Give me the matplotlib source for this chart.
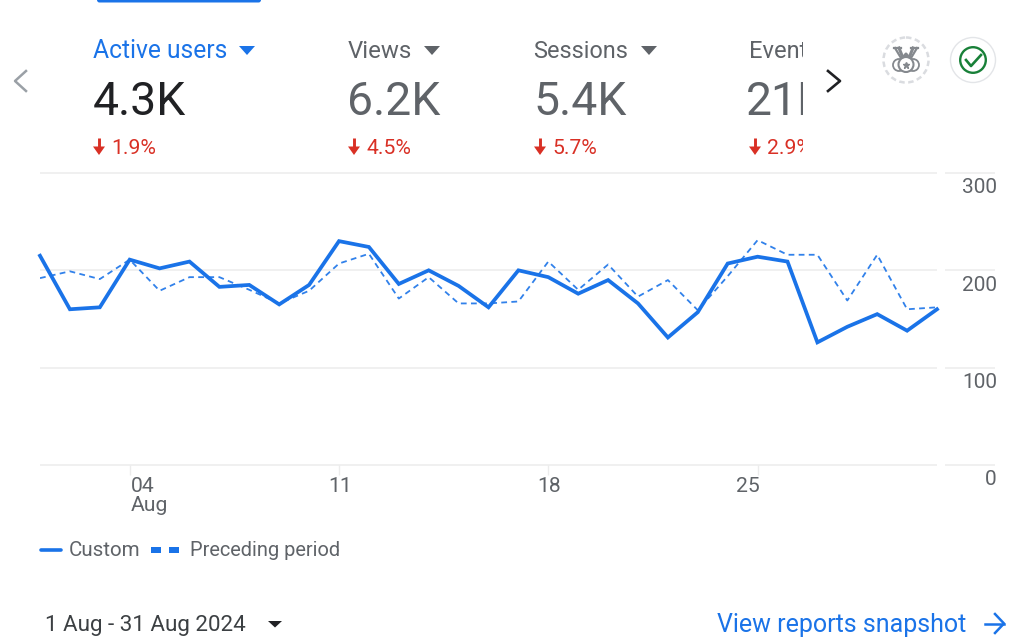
import matplotlib
matplotlib.use("Agg")
import matplotlib.pyplot as plt
from matplotlib.patches import Rectangle, Circle, Polygon, FancyBboxPatch
from matplotlib.transforms import ScaledTranslation

plt.rcParams['font.family'] = ['Roboto', 'DejaVu Sans']

days = list(range(1, 32))
custom = [215, 160, 162, 211, 202, 209, 183, 185, 165, 185, 230, 224, 186, 200, 184, 162,
          200, 193, 176, 190, 166, 131, 157, 207, 214, 209, 126, 142, 155, 138, 160]
preceding = [192, 199, 191, 211, 179, 193, 193, 180, 166, 179, 207, 217, 171, 193, 166, 166,
             168, 209, 180, 206, 173, 190, 159, 194, 231, 216, 216, 169, 216, 160, 162]
y_ticks = [0, 100, 200, 300]
x_ticks = [4, 11, 18, 25]
x_labels = ['04\nAug', '11', '18', '25']
x_aligns = ['left', 'center', 'center', 'right']
metrics = ['Active users', 'Views', 'Sessions', 'Events']
totals = ['4.3K', '6.2K', '5.4K', '21K']
changes = ['1.9%', '4.5%', '5.7%', '2.9%']
metric_x = [93, 348, 534, 749]
metric_tri = [247, 432, 649, None]
series_names = ['Custom', 'Preceding period']
date_range = '1 Aug - 31 Aug 2024'
link_text = 'View reports snapshot'

W, H = 1024, 644
BLUE = '#1a73e8'
GREY = '#5f6368'
RED = '#d93025'
GRID = '#ececec'

fig = plt.figure(figsize=(W / 100, H / 100), dpi=100, facecolor='white')

# overlay in pixel coordinates
ui = fig.add_axes([0, 0, 1, 1], zorder=0)
ui.set_xlim(0, W)
ui.set_ylim(H, 0)
ui.axis('off')

# chart
left, right, top, bottom = 40, 937, 173, 465
ax = fig.add_axes([left / W, 1 - bottom / H, (right - left) / W, (bottom - top) / H], zorder=1)
ax.patch.set_alpha(0)
ax.set_xlim(1, 31)
ax.set_ylim(0, 300)
for s in ax.spines.values():
    s.set_visible(False)
ax.hlines(y_ticks, 0, 1, transform=ax.get_yaxis_transform(), color=GRID, lw=1.1, zorder=1, clip_on=False)
ax.hlines(y_ticks, (945 - left) / (right - left), (995 - left) / (right - left),
          transform=ax.get_yaxis_transform(), color=GRID, lw=1.1, zorder=1, clip_on=False)
ax.plot(days, preceding, color=BLUE, lw=1.3, ls=(0, (3.2, 2.4)), zorder=2, alpha=.9)
ax.plot(days, custom, color=BLUE, lw=2.7, zorder=3, solid_joinstyle='miter', clip_on=False)

ax.yaxis.tick_right()
ax.set_yticks(y_ticks)
ax.set_yticklabels([str(v) for v in y_ticks])
ax.tick_params(axis='y', length=0, pad=43.2, labelsize=15, labelcolor=GREY)
off = ScaledTranslation(0, -3.9 / 72, fig.dpi_scale_trans)
for lab in ax.get_yticklabels():
    lab.set_ha('right')
    lab.set_va('top')
    lab.set_transform(lab.get_transform() + off)

ax.set_xticks(x_ticks)
ax.set_xticklabels(x_labels)
ax.tick_params(axis='x', length=7, width=1, color=GRID, pad=1.5, labelsize=15.2, labelcolor=GREY)
shift = {'left': 0.5, 'center': 0.5, 'right': 1.2}
for lab, a in zip(ax.get_xticklabels(), x_aligns):
    lab.set_ha(a)
    lab.set_linespacing(1.0)
    lab.set_transform(lab.get_transform() + ScaledTranslation(shift[a] / 72, 0, fig.dpi_scale_trans))

# top tab indicator
ui.add_patch(FancyBboxPatch((97, -6), 164, 8.5, boxstyle='round,pad=0,rounding_size=2.5', fc=BLUE, ec='none'))

# metric cards, clipped at the carousel edge
clip = Rectangle((0, 0), 803, H, transform=ui.transData)
name_sizes = [17.7, 17.3, 16.9, 17.0]
total_x = [93, 347.5, 533, 746]
name_x = [93, 348, 533.5, 749]
for i, (name, tot, chg, x, tx) in enumerate(zip(metrics, totals, changes, metric_x, metric_tri)):
    col = BLUE if i == 0 else GREY
    t1 = ui.text(name_x[i], 51, name, color=col, fontsize=name_sizes[i], va='center', ha='left')
    t2 = ui.text(total_x[i], 102, tot, color='#202124' if i == 0 else GREY, fontsize=33.3, va='center', ha='left')
    t3 = ui.text(x + 18.5, 148, chg, color=RED, fontsize=15.2, va='center', ha='left')
    for t in (t1, t2, t3):
        t.set_clip_path(clip)
        t.set_clip_on(True)
    if tx is not None:
        ui.add_patch(Polygon([(tx - 8, 46), (tx + 8, 46), (tx, 55)], fc=col, ec='none'))
    # down arrow
    ui.plot([x + 6, x + 6], [138, 150], color=RED, lw=2.1, solid_capstyle='butt')
    ui.add_patch(Polygon([(x, 146.5), (x + 12, 146.5), (x + 6, 155)], fc=RED, ec='none'))

# carousel arrows
ui.plot([26, 15, 26], [71, 81, 91], color='#9aa0a6', lw=1.8)
ui.plot([828, 840, 828], [71, 81, 91], color='#202124', lw=1.9)

# medal icon
MED = '#85898e'
ui.add_patch(Circle((906, 60), 22.5, fc='none', ec='#dadce0', lw=1.8, ls=(0, (2.2, 1.4))))
ui.plot([899, 903, 906, 909, 913], [48, 58, 54, 58, 48], color=MED, lw=2.2)
ui.plot([894, 901], [48, 48], color=MED, lw=1.6)
ui.plot([911, 918], [48, 48], color=MED, lw=1.6)
ui.plot([895, 901], [48, 58], color=MED, lw=1.6)
ui.plot([917, 911], [48, 58], color=MED, lw=1.6)
ui.add_patch(Circle((899, 65), 6, fc='none', ec=MED, lw=1.3))
ui.add_patch(Circle((913, 65), 6, fc='none', ec=MED, lw=1.3))
ui.add_patch(Circle((906, 64.5), 7.5, fc='white', ec=MED, lw=1.5, zorder=3))
ui.plot([906], [64.5], marker='*', ms=5, color=MED, zorder=4)

# check icon
ui.add_patch(Circle((973, 60), 22.5, fc='white', ec='#e3e5e8', lw=1))
ui.add_patch(Circle((973, 60), 12.8, fc='none', ec='#188038', lw=1.7))
ui.plot([966, 971, 981], [60, 66, 55], color='#188038', lw=1.9)

# legend
ui.plot([41, 61], [550, 550], color=BLUE, lw=2.6, solid_capstyle='round')
ui.text(68.5, 550.5, series_names[0], color=GREY, fontsize=14.8, va='center')
ui.add_patch(Rectangle((151, 547), 10, 6, fc=BLUE, ec='none'))
ui.add_patch(Rectangle((169, 547), 10, 6, fc=BLUE, ec='none'))
ui.text(189.5, 550.5, series_names[1], color=GREY, fontsize=14.4, va='center')

# footer
ui.text(45, 625, date_range, color='#3c4043', fontsize=16.1, va='center')
ui.add_patch(Polygon([(268, 621), (282, 621), (275, 627.5)], fc='#202124', ec='none'))
ui.text(717, 625, link_text, color=BLUE, fontsize=18, va='center')
ui.plot([985, 1004], [623.5, 623.5], color=BLUE, lw=1.8)
ui.plot([995, 1004, 995], [614, 623.5, 633], color=BLUE, lw=1.8)

fig.savefig('out.png', dpi=100, facecolor='white')
